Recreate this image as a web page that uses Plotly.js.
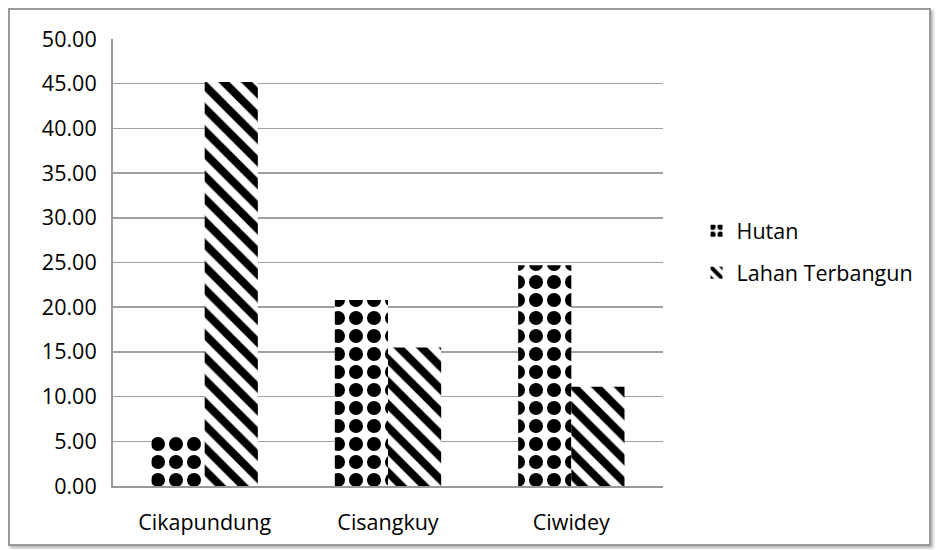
<!DOCTYPE html>
<html>
<head>
<meta charset="utf-8">
<script src="https://cdn.plot.ly/plotly-3.0.1.min.js"></script>
<style>
  html, body { margin: 0; padding: 0; background: #ffffff; }
  #frame { position: absolute; left: 8px; top: 8px; width: 919px; height: 534px;
           border: 2px solid #9a9a9a; box-shadow: 2px 2px 3px #b0b0b0; background: #fff; }
  #chart { position: absolute; left: 0; top: 0; width: 936px; height: 550px; }
</style>
</head>
<body>
<div id="frame"></div>
<div id="chart"></div>
<script>
const categories = ["Cikapundung", "Cisangkuy", "Ciwidey"];
const hutan = [5.8, 20.8, 24.7];
const lahanTerbangun = [45.2, 15.5, 11.1];
const seriesNames = ["Hutan", "Lahan Terbangun"];
const yTicks = [0, 5, 10, 15, 20, 25, 30, 35, 40, 45, 50];

const fontFam = "Open Sans, Noto Sans, sans-serif";
const fs = 21.5;

const traces = [
  {
    type: "bar", name: seriesNames[0], x: categories, y: hutan,
    legendgroup: "a",
    marker: { color: "#ffffff", line: { width: 0 },
      pattern: { shape: ".", fgcolor: "#000000", bgcolor: "#ffffff", size: 18, solidity: 0.48, fillmode: "replace" } },
    hoverinfo: "x+y"
  },
  {
    type: "bar", name: seriesNames[1], x: categories, y: lahanTerbangun,
    legendgroup: "b",
    marker: { color: "#ffffff", line: { width: 0 },
      pattern: { shape: "\\", fgcolor: "#000000", bgcolor: "#ffffff", size: 16, solidity: 0.5, fillmode: "replace" } },
    hoverinfo: "x+y"
  }
];

const layout = {
  width: 936, height: 550,
  margin: { l: 113, r: 273, t: 39, b: 64 },
  paper_bgcolor: "rgba(0,0,0,0)",
  plot_bgcolor: "rgba(0,0,0,0)",
  font: { family: fontFam, size: fs, color: "#000000" },
  barmode: "group",
  bargap: 0.42,
  bargroupgap: 0,
  showlegend: true,
  legend: {
    x: 1.061, xanchor: "left", y: 0.524, yanchor: "middle",
    font: { family: fontFam, size: fs, color: "#000000" },
    traceorder: "grouped", tracegroupgap: 11,
    bgcolor: "rgba(0,0,0,0)", itemwidth: 30
  },
  xaxis: {
    type: "category",
    showline: true, linecolor: "#999999", linewidth: 2,
    ticks: "", showgrid: false,
    tickfont: { family: fontFam, size: fs, color: "#000000" },
    ticklabelstandoff: 16
  },
  yaxis: {
    range: [0, 50], tickvals: yTicks, tickformat: ".2f",
    showline: true, linecolor: "#999999", linewidth: 2,
    showgrid: true, gridcolor: "#a0a0a0", gridwidth: 1.5,
    zeroline: false, ticks: "",
    tickfont: { family: fontFam, size: fs, color: "#000000" },
    ticklabelstandoff: 10
  }
};

Plotly.newPlot("chart", traces, layout, { displayModeBar: false, staticPlot: true });
</script>
</body>
</html>
